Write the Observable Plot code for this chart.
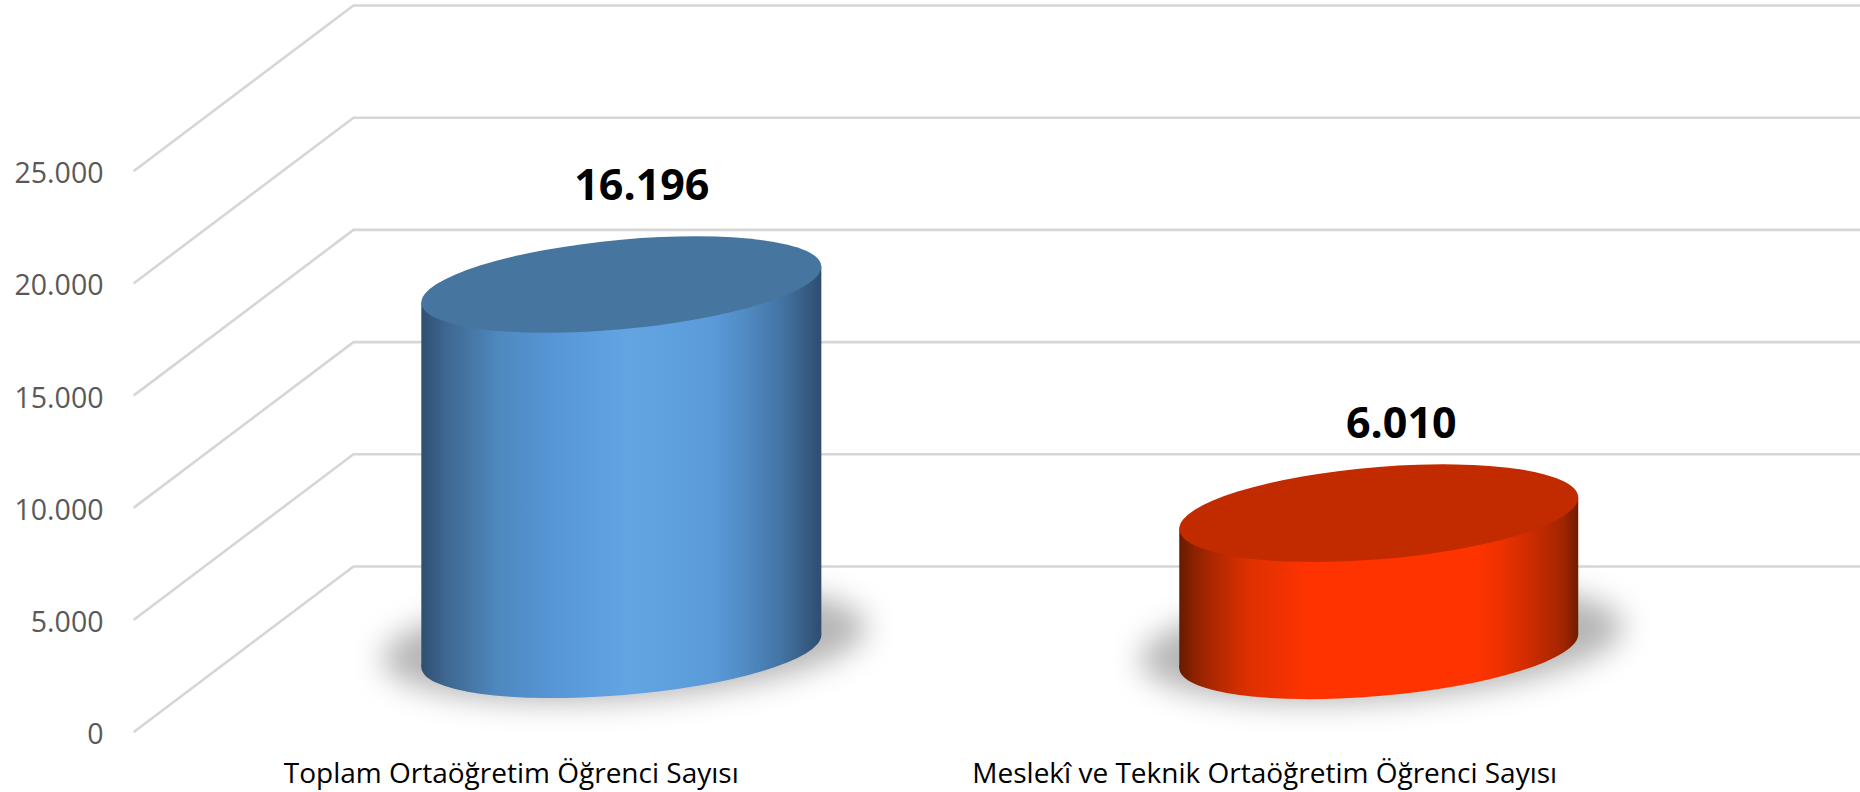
<!DOCTYPE html>
<html lang="tr">
<head>
<meta charset="utf-8">
<title>Ortaöğretim Öğrenci Sayısı</title>
<script src="https://cdn.jsdelivr.net/npm/d3@7"></script>
<script src="https://cdn.jsdelivr.net/npm/@observablehq/plot@0.6"></script>
<style>
html,body{margin:0;padding:0;background:#fff;overflow:hidden}
svg{display:block}
</style>
</head>
<body>
<div id="chart"></div>
<svg width="0" height="0" style="position:absolute">
  <defs>
    <linearGradient id="sideBlue" x1="0" x2="1" y1="0" y2="0">
      <stop offset="0" stop-color="#2f4f72"/><stop offset="0.06" stop-color="#3e6690"/>
      <stop offset="0.19" stop-color="#4e88bd"/><stop offset="0.34" stop-color="#5797d8"/>
      <stop offset="0.52" stop-color="#63a5e3"/><stop offset="0.73" stop-color="#5a9ad9"/>
      <stop offset="0.81" stop-color="#508bc3"/><stop offset="0.9" stop-color="#4374a4"/>
      <stop offset="1" stop-color="#2e4d70"/>
    </linearGradient>
    <linearGradient id="sideRed" x1="0" x2="1" y1="0" y2="0">
      <stop offset="0" stop-color="#661b00"/><stop offset="0.04" stop-color="#8f2200"/>
      <stop offset="0.09" stop-color="#b02800"/><stop offset="0.17" stop-color="#dc3000"/>
      <stop offset="0.32" stop-color="#ff3300"/><stop offset="0.74" stop-color="#ff3300"/>
      <stop offset="0.8" stop-color="#f03100"/><stop offset="0.88" stop-color="#cc2c00"/>
      <stop offset="0.96" stop-color="#a32500"/><stop offset="1" stop-color="#701d00"/>
    </linearGradient>
    <filter id="softShadow" x="-30%" y="-60%" width="160%" height="220%">
      <feGaussianBlur stdDeviation="15"/>
    </filter>
  </defs>
</svg>
<script>
// Data
const categories = ["Toplam Ortaöğretim Öğrenci Sayısı", "Meslekî ve Teknik Ortaöğretim Öğrenci Sayısı"];
const values = [16196, 6010];
const valueLabels = ["16.196", "6.010"];
const yTicks = [0, 5000, 10000, 15000, 20000, 25000];
const categoryCentres = [0.5, 1.5];

// Depth of the 3D box, in scale units
const depthX = 0.2906;
const depthY = 7353;

// Cylinder placement, in scale units
const cylLeft = [0.3813, 1.3872];
const cylRight = [0.9122, 1.9167];
const topLift = 3699;
const baseLift = 3560;

// Cylinder looks
const sideFill = ["url(#sideBlue)", "url(#sideRed)"];
const capFill = ["#46769f", "#c22a00"];
const capShear = [-18, -15.7];
const capRise = [44.8, 46.2];
const baseShear = [-16, -16.8];
const baseRise = [44.2, 45];
const labelDx = [20, 22];
const labelDy = [-99, -89];

const fmt = d3.formatLocale({decimal: ",", thousands: ".", grouping: [3], currency: ["", ""]}).format(",");

const gridPaths = yTicks.flatMap(t => [
  {t, x: 0, y: t},
  {t, x: depthX, y: t + depthY},
  {t, x: 2 + depthX, y: t + depthY}
]);

const svgNS = "http://www.w3.org/2000/svg";
function el(name, attrs) {
  const n = document.createElementNS(svgNS, name);
  for (const k in attrs) n.setAttribute(k, attrs[k]);
  return n;
}

function cylinderRender(index, scales, channels, dims, context) {
  const g = el("g", {"aria-label": "cylinder"});
  for (const i of index) {
    const k = values.indexOf(rows[i].value);
    const x1 = channels.x1[i], x2 = channels.x2[i];
    const yTop = channels.y2[i], yBase = channels.y1[i];
    const a = (x2 - x1) / 2, cx = (x1 + x2) / 2;
    const p = capShear[k], q = capRise[k], pb = baseShear[k], qb = baseRise[k];
    // Soft floor shadow
    const blur = el("g", {filter: "url(#softShadow)"});
    blur.append(el("circle", {
      r: 1, fill: "#000", "fill-opacity": 0.29,
      transform: `matrix(${a * 1.21},${pb},0,${qb + 12},${cx + 3},${yBase - 8})`
    }));
    g.append(blur);
    // Bottom cap and side wall share the horizontal gradient
    g.append(el("circle", {
      r: 1, fill: sideFill[k],
      transform: `matrix(${a},${pb},0,${qb},${cx},${yBase})`
    }));
    g.append(el("path", {
      fill: sideFill[k],
      d: `M${x1},${yTop - p}L${x2},${yTop + p}L${x2},${yBase + pb}L${x1},${yBase - pb}Z`
    }));
    // Top cap
    g.append(el("circle", {
      r: 1, fill: capFill[k],
      transform: `matrix(${a},${p},0,${q},${cx},${yTop})`
    }));
  }
  return g;
}

const rows = categories.map((c, i) => ({
  category: c, value: values[i], left: cylLeft[i], right: cylRight[i]
}));

const chart = Plot.plot({
  width: 1860,
  height: 792,
  marginLeft: 134,
  marginRight: 219,
  marginTop: 170,
  marginBottom: 61,
  style: {background: "#fff", fontFamily: "'Open Sans', sans-serif"},
  x: {domain: [0, 2]},
  y: {domain: [0, 25000]},
  marks: [
    Plot.line(gridPaths, {x: "x", y: "y", z: "t", stroke: "#d6d6d6", strokeWidth: 2.6, curve: "linear"}),
    Plot.rect(rows, {
      x1: "left", x2: "right",
      y1: () => baseLift, y2: d => d.value + topLift,
      title: d => `${d.category}: ${fmt(d.value)}`,
      render: cylinderRender
    }),
    ...rows.map((d, i) => Plot.text([d], {
      x: () => (cylLeft[i] + cylRight[i]) / 2,
      y: v => v.value + topLift,
      text: () => valueLabels[i],
      dx: labelDx[i], dy: labelDy[i],
      fontSize: 43, fontWeight: 700, fill: "#000"
    })),
    Plot.axisY({
      ticks: yTicks, tickFormat: fmt, tickSize: 0, tickPadding: 31, dy: 3.5,
      label: null, fontSize: 28.5, color: "#595959"
    }),
    Plot.axisX({
      ticks: categoryCentres, tickFormat: d => categories[d - 0.5], tickSize: 0, tickPadding: 32,
      label: null, fontSize: 28, color: "#000"
    })
  ]
});
document.getElementById("chart").append(chart);
</script>
</body>
</html>
